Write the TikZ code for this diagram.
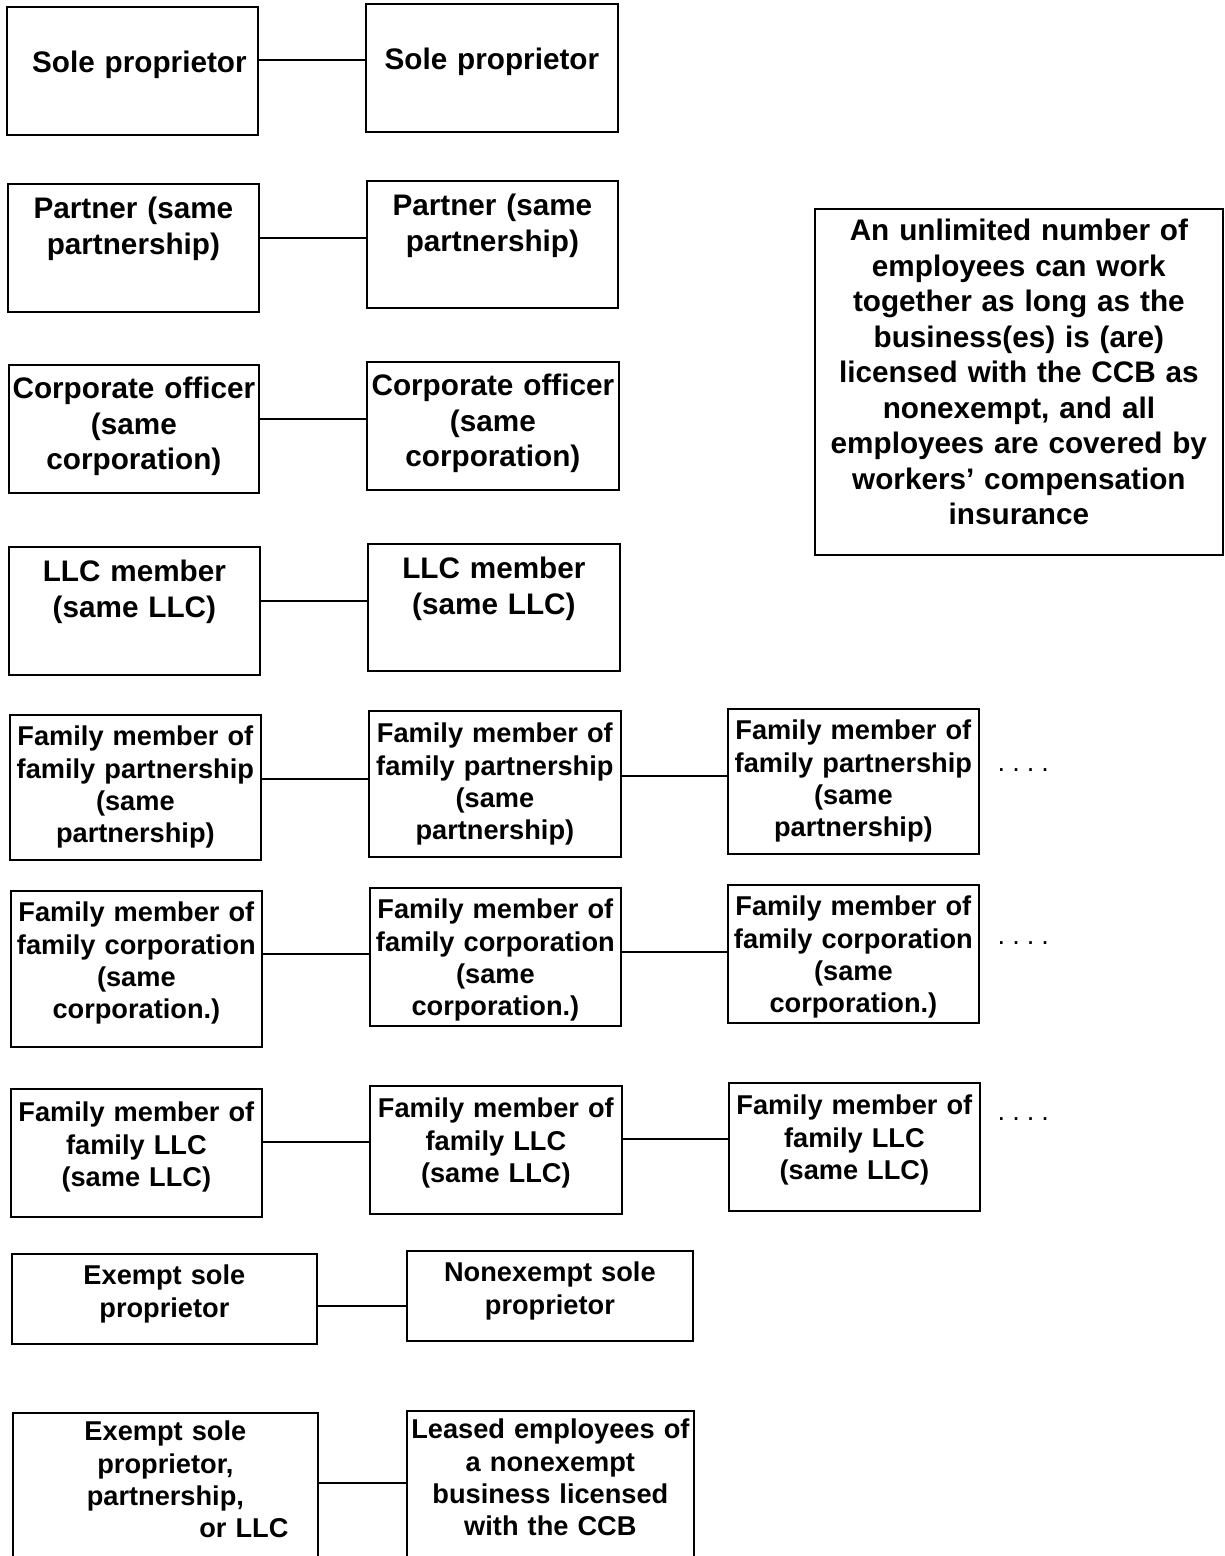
\documentclass[tikz,border=0pt]{standalone}
\usepackage{fontspec}
\setmainfont{Liberation Sans}
\newcommand\boxfont{\fontsize{8.45}{10.1}\selectfont\bfseries}
\newcommand\famfont{\fontsize{7.74}{9.19}\selectfont\bfseries}
\newcommand\moredots{.\hspace{0.07cm}.\hspace{0.07cm}.\hspace{0.07cm}.}
\tikzset{
  cell/.style={draw, line width=0.5pt, inner sep=0pt, anchor=north west, align=center, font=\boxfont},
  fam/.style={cell, font=\famfont},
  dots/.style={anchor=base west, inner sep=0pt, font=\fontsize{7.74}{9.19}\selectfont}
}
\begin{document}
\begin{tikzpicture}
\useasboundingbox (0,0) rectangle (12.24,-15.56);

\node[cell, text width=2.51cm, text height=0.66cm, text depth=0.62cm] (sp1) at (0.06,-0.06) {\hspace*{0.14cm}Sole proprietor};
\node[cell, text width=2.52cm, text height=0.66cm, text depth=0.62cm] (sp2) at (3.65,-0.03) {Sole proprietor};

\node[cell, text width=2.51cm, text height=0.35cm, text depth=0.93cm] (pa1) at (0.07,-1.83) {Partner (same\\partnership)};
\node[cell, text width=2.51cm, text height=0.35cm, text depth=0.92cm] (pa2) at (3.66,-1.80) {Partner (same\\partnership)};

\node[cell, text width=2.50cm, text height=0.34cm, text depth=0.94cm] (co1) at (0.08,-3.64) {Corporate officer\\(same\\corporation)};
\node[cell, text width=2.52cm, text height=0.34cm, text depth=0.94cm] (co2) at (3.66,-3.61) {Corporate officer\\(same\\corporation)};

\node[cell, text width=2.51cm, text height=0.35cm, text depth=0.93cm] (ll1) at (0.08,-5.46) {LLC member\\(same LLC)};
\node[cell, text width=2.52cm, text height=0.35cm, text depth=0.92cm] (ll2) at (3.67,-5.43) {LLC member\\(same LLC)};

\node[cell, text width=4.08cm, text height=0.32cm, text depth=3.14cm] (note) at (8.14,-2.08)
  {An unlimited number of\\employees can work\\together as long as the\\business(es) is (are)\\licensed with the CCB as\\nonexempt, and all\\employees are covered by\\workers’ compensation\\insurance};

% family rows
\node[fam, text width=2.51cm, text height=0.31cm, text depth=1.14cm] (fp1) at (0.09,-7.14) {Family member of\\family partnership\\(same\\partnership)};
\node[fam, text width=2.52cm, text height=0.32cm, text depth=1.14cm] (fp2) at (3.68,-7.10) {Family member of\\family partnership\\(same\\partnership)};
\node[fam, text width=2.51cm, text height=0.31cm, text depth=1.14cm] (fp3) at (7.27,-7.08) {Family member of\\family partnership\\(same\\partnership)};
\node[dots] (fpd) at (9.97,-7.71) {\moredots};

\node[fam, text width=2.51cm, text height=0.31cm, text depth=1.25cm] (fc1) at (0.10,-8.90) {Family member of\\family corporation\\(same\\corporation.)};
\node[fam, text width=2.51cm, text height=0.31cm, text depth=1.07cm] (fc2) at (3.69,-8.87) {Family member of\\family corporation\\(same\\corporation.)};
\node[fam, text width=2.51cm, text height=0.31cm, text depth=1.07cm] (fc3) at (7.27,-8.84) {Family member of\\family corporation\\(same\\corporation.)};
\node[dots] (fcd) at (9.97,-9.44) {\moredots};

\node[fam, text width=2.51cm, text height=0.33cm, text depth=0.95cm] (fl1) at (0.10,-10.88) {Family member of\\family LLC\\(same LLC)};
\node[fam, text width=2.52cm, text height=0.32cm, text depth=0.96cm] (fl2) at (3.69,-10.85) {Family member of\\family LLC\\(same LLC)};
\node[fam, text width=2.51cm, text height=0.32cm, text depth=0.96cm] (fl3) at (7.28,-10.82) {Family member of\\family LLC\\(same LLC)};
\node[dots] (fld) at (9.97,-11.20) {\moredots};

% exempt rows
\node[fam, text width=3.05cm, text height=0.31cm, text depth=0.59cm] (ex1) at (0.11,-12.53) {Exempt sole\\proprietor};
\node[fam, text width=2.86cm, text height=0.31cm, text depth=0.59cm] (ex2) at (4.06,-12.50) {Nonexempt sole\\proprietor};

\node[fam, text width=3.05cm, text height=0.28cm, text depth=1.20cm] (ex3) at (0.12,-14.12) {Exempt sole\\proprietor,\\partnership,\\ \hspace*{1.57cm}or LLC};
\node[fam, text width=2.87cm, text height=0.28cm, text depth=1.22cm] (le1) at (4.06,-14.10) {Leased employees of\\a nonexempt\\business licensed\\with the CCB};

\foreach \a/\b/\s in {sp1/sp2/0.11, pa1/pa2/0.10, co1/co2/0.10, ll1/ll2/0.10,
    fp1/fp2/0.085, fp2/fp3/0.08, fc1/fc2/0.15, fc2/fc3/0.05, fl1/fl2/0.11, fl2/fl3/0.11,
    ex1/ex2/-0.07, ex3/le1/0.04}
  \draw[line width=0.5pt] ([yshift=\s cm]\a.east) -- ([yshift=\s cm]\a.east -| \b.west);
\end{tikzpicture}
\end{document}
